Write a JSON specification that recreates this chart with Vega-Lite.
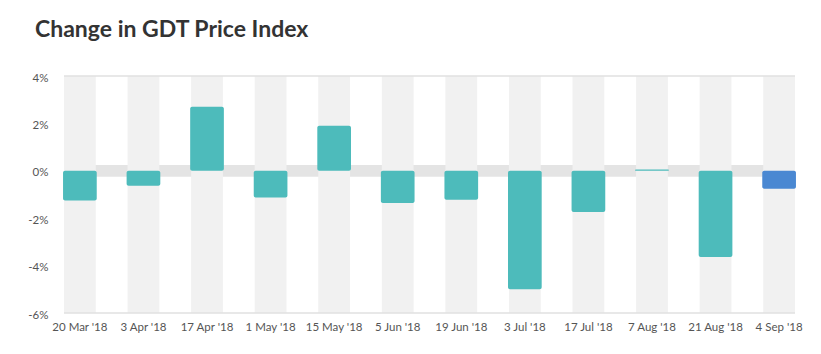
{
  "$schema": "https://vega.github.io/schema/vega-lite/v6.json",
  "width": 731,
  "height": 237,
  "autosize": {"type": "none"},
  "padding": {"left": 64, "top": 76, "right": 26, "bottom": 41},
  "background": "white",
  "title": {
    "text": "Change in GDT Price Index",
    "anchor": "start",
    "frame": "group",
    "dx": -29,
    "offset": 30,
    "font": "Lato",
    "fontSize": 23,
    "fontWeight": "bold",
    "color": "#333333"
  },
  "config": {
    "view": {"stroke": null},
    "font": "Lato"
  },
  "data": {
    "values": [
      {"date": "20 Mar '18", "change": -1.25, "latest": "no"},
      {"date": "3 Apr '18", "change": -0.63, "latest": "no"},
      {"date": "17 Apr '18", "change": 2.7, "latest": "no"},
      {"date": "1 May '18", "change": -1.13, "latest": "no"},
      {"date": "15 May '18", "change": 1.9, "latest": "no"},
      {"date": "5 Jun '18", "change": -1.36, "latest": "no"},
      {"date": "19 Jun '18", "change": -1.22, "latest": "no"},
      {"date": "3 Jul '18", "change": -5.0, "latest": "no"},
      {"date": "17 Jul '18", "change": -1.74, "latest": "no"},
      {"date": "7 Aug '18", "change": 0.05, "latest": "no"},
      {"date": "21 Aug '18", "change": -3.64, "latest": "no"},
      {"date": "4 Sep '18", "change": -0.76, "latest": "yes"}
    ]
  },
  "encoding": {
    "x": {
      "field": "date",
      "type": "nominal",
      "sort": null,
      "scale": {"paddingInner": 0.5, "paddingOuter": 0},
      "axis": {
        "title": null,
        "labelAngle": 0,
        "ticks": false,
        "domain": false,
        "labelPadding": 8,
        "labelFontSize": 11.5,
        "labelColor": "#555555",
        "labelFont": "Lato"
      }
    }
  },
  "layer": [
    {
      "data": {"values": [{"lo": -0.25, "hi": 0.25}]},
      "mark": {"type": "rect", "color": "#e4e4e4"},
      "encoding": {
        "x": {"value": 0},
        "x2": {"value": "width"},
        "y": {"field": "hi", "type": "quantitative"},
        "y2": {"field": "lo"}
      }
    },
    {
      "mark": {"type": "bar", "color": "#f1f1f1"},
      "encoding": {
        "y": {"datum": 4, "type": "quantitative"},
        "y2": {"datum": -6}
      }
    },
    {
      "data": {"values": [{"v": 4}, {"v": -6}]},
      "mark": {"type": "rule", "color": "#e0e0e0", "strokeWidth": 1.5},
      "encoding": {
        "x": {"value": 0},
        "x2": {"value": "width"},
        "y": {"field": "v", "type": "quantitative"}
      }
    },
    {
      "mark": {"type": "bar", "width": {"band": 1.06}, "cornerRadius": 2},
      "encoding": {
        "y": {
          "field": "change",
          "type": "quantitative",
          "scale": {"domain": [-6, 4], "nice": false, "zero": false},
          "axis": {
            "title": null,
            "values": [4, 2, 0, -2, -4, -6],
            "labelExpr": "datum.value + '%'",
            "ticks": false,
            "domain": false,
            "grid": false,
            "labelPadding": 16,
            "labelOffset": 2,
            "labelFontSize": 11.5,
            "labelColor": "#555555",
            "labelFont": "Lato"
          }
        },
        "y2": {"datum": 0},
        "color": {
          "field": "latest",
          "type": "nominal",
          "scale": {"domain": ["no", "yes"], "range": ["#4dbbbb", "#4a88d2"]},
          "legend": null
        }
      }
    }
  ]
}
